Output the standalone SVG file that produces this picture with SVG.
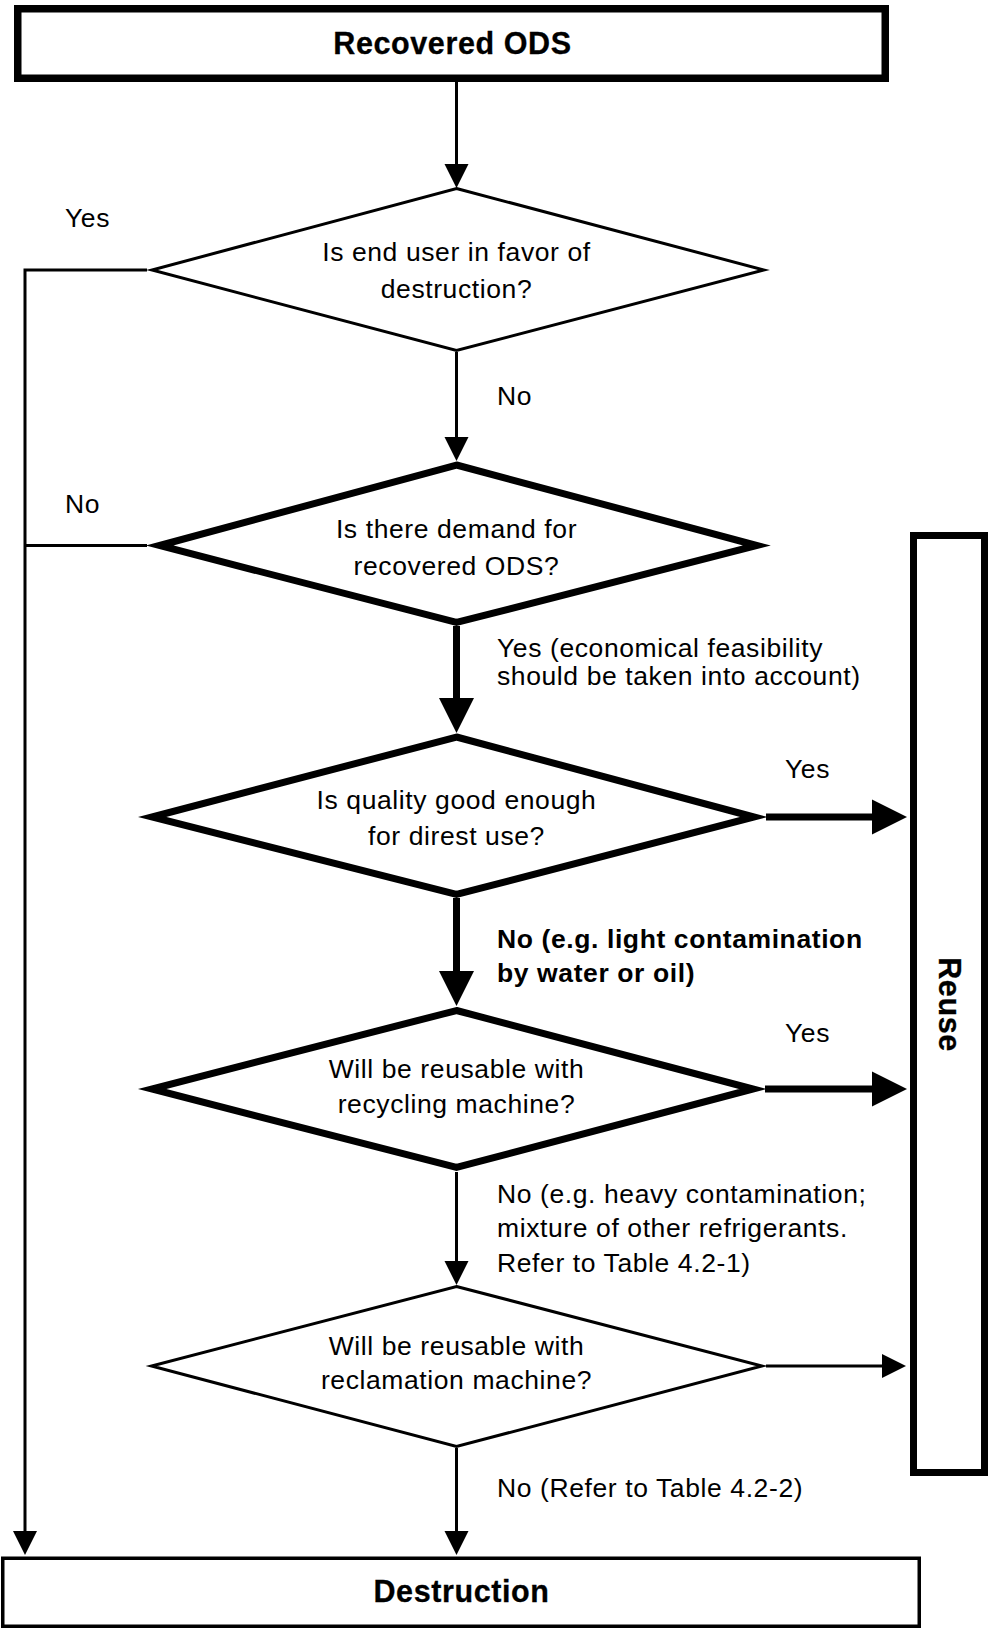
<svg xmlns="http://www.w3.org/2000/svg" width="992" height="1630" viewBox="0 0 992 1630">
<style>
.t{font-family:"Liberation Sans",Arial,Helvetica,sans-serif;font-size:26.5px;letter-spacing:0.6px;fill:#000}
.b{font-weight:bold}
.h{font-size:30.5px;font-weight:bold;letter-spacing:0.6px;stroke:#000;stroke-width:0.3}
.m{text-anchor:middle}
.box{fill:#fff;stroke:#000}
.thin{fill:#fff;stroke:#000;stroke-width:3;stroke-miterlimit:10}
.thick{fill:#fff;stroke:#000;stroke-width:7;stroke-miterlimit:10}
.c{fill:none;stroke:#000;stroke-width:3}
.ck{fill:none;stroke:#000;stroke-width:7}
</style>
<defs>
<marker id="ah" markerUnits="userSpaceOnUse" markerWidth="24" markerHeight="24" viewBox="0 0 24 24" refX="14" refY="12" orient="auto" overflow="visible"><path d="M0,0 L24,12 L0,24 Z" fill="#000"/></marker>
<marker id="ahk" markerUnits="userSpaceOnUse" markerWidth="35" markerHeight="35" viewBox="0 0 35 35" refX="20" refY="17.5" orient="auto" overflow="visible"><path d="M0,0 L35,17.5 L0,35 Z" fill="#000"/></marker>
</defs>
<rect width="992" height="1630" fill="#fff"/>

<g id="recovered">
<rect class="box" x="17.75" y="8.75" width="867.5" height="69.5" stroke-width="7.5"/>
<text class="t h m" x="452.5" y="54">Recovered ODS</text>
</g>

<g id="q1">
<polygon class="thin" points="456.5,188.5 764,270 456.5,350.5 152,270"/>
<text class="t m" x="456.5" y="261">Is end user in favor of</text>
<text class="t m" x="456.5" y="298">destruction?</text>
</g>

<g id="q2">
<polygon class="thick" points="456.5,465 757,545.5 456.5,622.5 159.5,545.5"/>
<text class="t m" x="456.5" y="538">Is there demand for</text>
<text class="t m" x="456.5" y="575">recovered ODS?</text>
</g>

<g id="q3">
<polygon class="thick" points="456.5,737 754,817 456.5,894.5 152,817"/>
<text class="t m" x="456.5" y="808.5">Is quality good enough</text>
<text class="t m" x="456.5" y="845">for direst use?</text>
</g>

<g id="q4">
<polygon class="thick" points="456.5,1010.5 753,1089 456.5,1167.5 152,1089"/>
<text class="t m" x="456.5" y="1078">Will be reusable with</text>
<text class="t m" x="456.5" y="1113">recycling machine?</text>
</g>

<g id="q5">
<polygon class="thin" points="456.5,1286.5 762,1366 456.5,1446.5 151.5,1366"/>
<text class="t m" x="456.5" y="1355">Will be reusable with</text>
<text class="t m" x="456.5" y="1389">reclamation machine?</text>
</g>

<g id="reuse">
<rect class="box" x="913.5" y="535.5" width="71" height="937" stroke-width="7"/>
<text class="t h m" transform="translate(939,1004.5) rotate(90)" x="0" y="0">Reuse</text>
</g>

<g id="destruction">
<rect class="box" x="2.75" y="1558.25" width="916.5" height="68" stroke-width="3.5"/>
<text class="t h m" x="461.5" y="1602">Destruction</text>
</g>

<g id="connectors">
<line class="c" x1="456.5" y1="82" x2="456.5" y2="178" marker-end="url(#ah)"/>
<line class="c" x1="456.5" y1="352" x2="456.5" y2="451" marker-end="url(#ah)"/>
<polyline class="c" points="147,270 25,270 25,1545" marker-end="url(#ah)"/>
<line class="c" x1="147" y1="545.5" x2="25" y2="545.5"/>
<line class="ck" x1="456.5" y1="626" x2="456.5" y2="718" marker-end="url(#ahk)"/>
<line class="ck" x1="766" y1="817" x2="892" y2="817" marker-end="url(#ahk)"/>
<line class="ck" x1="456.5" y1="898" x2="456.5" y2="991" marker-end="url(#ahk)"/>
<line class="ck" x1="765" y1="1089" x2="892" y2="1089" marker-end="url(#ahk)"/>
<line class="c" x1="456.5" y1="1448" x2="456.5" y2="1545" marker-end="url(#ah)"/>
<line class="c" x1="456.5" y1="1172" x2="456.5" y2="1275" marker-end="url(#ah)"/>
<line class="c" x1="766" y1="1366" x2="896" y2="1366" marker-end="url(#ah)"/>
</g>

<g id="labels">
<text class="t" x="65" y="227">Yes</text>
<text class="t" x="497" y="405">No</text>
<text class="t" x="65" y="513">No</text>
<text class="t" x="497" y="657">Yes (economical feasibility</text>
<text class="t" x="497" y="685">should be taken into account)</text>
<text class="t" x="785" y="778">Yes</text>
<text class="t b" x="497" y="948">No (e.g. light contamination</text>
<text class="t b" x="497" y="982">by water or oil)</text>
<text class="t" x="785" y="1042">Yes</text>
<text class="t" x="497" y="1203">No (e.g. heavy contamination;</text>
<text class="t" x="497" y="1237">mixture of other refrigerants.</text>
<text class="t" x="497" y="1272">Refer to Table 4.2-1)</text>
<text class="t" x="497" y="1497">No (Refer to Table 4.2-2)</text>
</g>
</svg>
